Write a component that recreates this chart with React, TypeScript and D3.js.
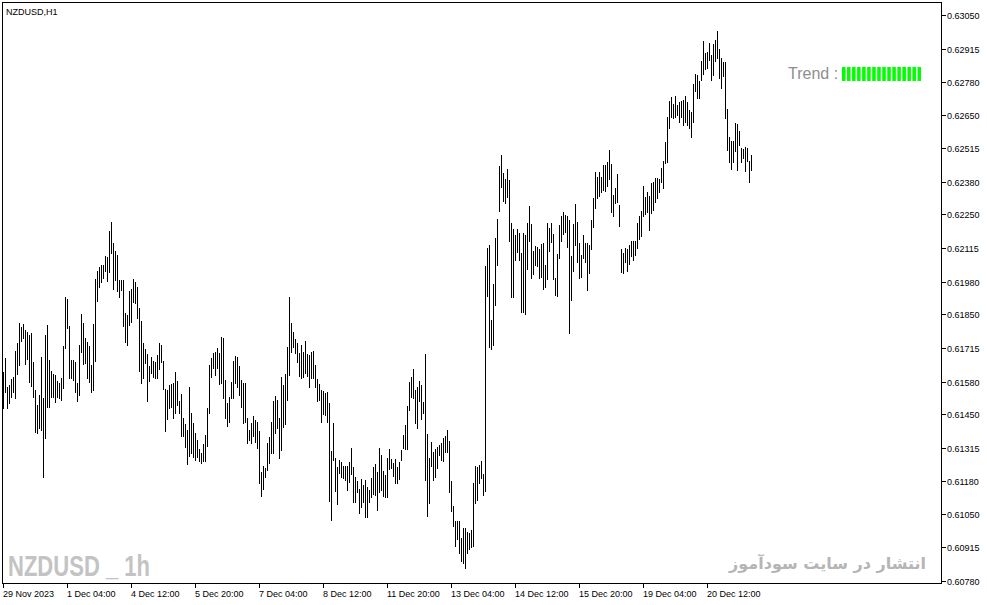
import { useEffect, useRef } from "react";
import * as d3 from "d3";

const symbolTitle = "NZDUSD,H1";
const watermark = "NZDUSD _ 1h";
const siteNote = "انتشار در سایت سودآموز";
const trendLabel = "Trend :";
const trendBlocks = 16;

// x-axis labels, one every 32 hourly bars
const timeLabels = [
  "29 Nov 2023", "1 Dec 04:00", "4 Dec 12:00", "5 Dec 20:00", "7 Dec 04:00", "8 Dec 12:00",
  "11 Dec 20:00", "13 Dec 04:00", "14 Dec 12:00", "15 Dec 20:00", "19 Dec 04:00", "20 Dec 12:00",
];
const labelEvery = 32;

const priceTicks = [
  0.6305, 0.62915, 0.6278, 0.6265, 0.62515, 0.6238, 0.6225, 0.62115, 0.6198,
  0.6185, 0.61715, 0.6158, 0.6145, 0.61315, 0.6118, 0.6105, 0.60915, 0.6078,
];
const priceLabels = [
  "0.63050", "0.62915", "0.62780", "0.62650", "0.62515", "0.62380", "0.62250", "0.62115", "0.61980",
  "0.61850", "0.61715", "0.61580", "0.61450", "0.61315", "0.61180", "0.61050", "0.60915", "0.60780",
];

// H1 bar highs / lows
const highs = [
  0.61618, 0.61674, 0.61558, 0.61566, 0.6159, 0.61598, 0.61702, 0.61735, 0.61815, 0.61799,
  0.61811, 0.61787, 0.61779, 0.61767, 0.61775, 0.61658, 0.61546, 0.61486, 0.61526, 0.61678,
  0.61514, 0.61767, 0.61807, 0.61666, 0.61622, 0.6161, 0.61606, 0.61582, 0.61574, 0.61594,
  0.61723, 0.61919, 0.61911, 0.61803, 0.61666, 0.61666, 0.61658, 0.61574, 0.61727, 0.61851,
  0.61815, 0.61755, 0.61739, 0.61723, 0.61646, 0.61811, 0.61991, 0.62023, 0.62039, 0.62047,
  0.62047, 0.62083, 0.62079, 0.62184, 0.6222, 0.62136, 0.62103, 0.62087, 0.61987, 0.61987,
  0.61987, 0.61855, 0.61847, 0.61943, 0.61951, 0.61991, 0.61979, 0.61959, 0.61875, 0.61823,
  0.61735, 0.6171, 0.6169, 0.61642, 0.61678, 0.61662, 0.61658, 0.61686, 0.61735, 0.61727,
  0.61662, 0.6155, 0.61546, 0.61566, 0.6157, 0.61574, 0.61618, 0.61582, 0.61502, 0.6153,
  0.61434, 0.6141, 0.61386, 0.61558, 0.61454, 0.61414, 0.61374, 0.61346, 0.6131, 0.61293,
  0.6133, 0.61366, 0.61474, 0.61646, 0.61674, 0.61694, 0.61698, 0.61715, 0.61694, 0.61759,
  0.61755, 0.61586, 0.61494, 0.61518, 0.61578, 0.61662, 0.61682, 0.61678, 0.61642, 0.61586,
  0.61574, 0.61574, 0.61434, 0.61386, 0.61414, 0.61442, 0.61426, 0.61418, 0.61382, 0.61217,
  0.61241, 0.61233, 0.61334, 0.61358, 0.61418, 0.61502, 0.61522, 0.61506, 0.61434, 0.61598,
  0.61566, 0.6161, 0.61718, 0.61919, 0.61815, 0.61779, 0.61751, 0.61735, 0.61694, 0.61727,
  0.61698, 0.61743, 0.6169, 0.61686, 0.61698, 0.61702, 0.61646, 0.6159, 0.6157, 0.61546,
  0.61542, 0.61534, 0.61538, 0.61494, 0.61301, 0.61414, 0.61273, 0.61237, 0.61265, 0.61257,
  0.61241, 0.61241, 0.61241, 0.61257, 0.61314, 0.61237, 0.61197, 0.61181, 0.61149, 0.61189,
  0.61165, 0.61185, 0.61157, 0.61145, 0.61193, 0.61237, 0.61249, 0.61217, 0.61314, 0.61285,
  0.61221, 0.61205, 0.61273, 0.6131, 0.61269, 0.61253, 0.61269, 0.61237, 0.61257, 0.61305,
  0.61366, 0.61406, 0.61482, 0.61578, 0.61598, 0.6163, 0.61546, 0.61558, 0.61582, 0.61566,
  0.61498, 0.6169, 0.6137, 0.61273, 0.61338, 0.61297, 0.6131, 0.61318, 0.61325, 0.61334,
  0.61354, 0.61362, 0.61386, 0.61342, 0.61181, 0.61081, 0.61021, 0.61021, 0.61021, 0.60953,
  0.60993, 0.60993, 0.60977, 0.60973, 0.60985, 0.61173, 0.61241, 0.61237, 0.61245, 0.61261,
  0.61209, 0.62043, 0.62115, 0.62127, 0.61827, 0.61971, 0.62156, 0.62232, 0.62444, 0.62488,
  0.62416, 0.62392, 0.62432, 0.62388, 0.62216, 0.62192, 0.62168, 0.62192, 0.62176, 0.62095,
  0.62176, 0.62168, 0.62216, 0.62284, 0.62212, 0.62103, 0.62123, 0.62119, 0.62111, 0.62132,
  0.62136, 0.62047, 0.62216, 0.62196, 0.62216, 0.62172, 0.61995, 0.62091, 0.62208, 0.62244,
  0.6226, 0.62248, 0.62244, 0.62228, 0.62083, 0.62212, 0.62292, 0.6222, 0.62136, 0.62087,
  0.62168, 0.62136, 0.62136, 0.62127, 0.62228, 0.62316, 0.6242, 0.624, 0.6242, 0.624,
  0.62448, 0.62448, 0.6246, 0.62508, 0.62452, 0.62328, 0.62356, 0.62412, 0.62288, 0.62111,
  0.62095, 0.62115, 0.62111, 0.62127, 0.62144, 0.62144, 0.62144, 0.62216, 0.62244, 0.62264,
  0.62364, 0.6232, 0.6234, 0.62324, 0.62376, 0.6238, 0.62396, 0.62396, 0.62392, 0.62436,
  0.62464, 0.62541, 0.62641, 0.62705, 0.62721, 0.62693, 0.62725, 0.62689, 0.62701, 0.62705,
  0.62709, 0.62725, 0.62701, 0.62669, 0.62661, 0.62773, 0.62813, 0.62809, 0.62785, 0.62865,
  0.62946, 0.62897, 0.62901, 0.62938, 0.62889, 0.62934, 0.6295, 0.62986, 0.62913, 0.62877,
  0.62861, 0.62861, 0.62673, 0.62561, 0.62545, 0.62545, 0.62617, 0.62613, 0.62585, 0.62516,
  0.62512, 0.6252, 0.62516, 0.62464, 0.62488,
];

const lows = [
  0.61474, 0.61538, 0.61474, 0.61494, 0.61518, 0.61538, 0.61514, 0.6161, 0.61646, 0.61743,
  0.61755, 0.6165, 0.6167, 0.61578, 0.61562, 0.61518, 0.61378, 0.61374, 0.61394, 0.61386,
  0.61197, 0.61354, 0.61478, 0.61478, 0.61518, 0.61518, 0.61498, 0.61518, 0.61514, 0.61506,
  0.61554, 0.61715, 0.61795, 0.61594, 0.61594, 0.61586, 0.61538, 0.61502, 0.61526, 0.61698,
  0.6165, 0.61654, 0.61594, 0.61578, 0.61538, 0.61546, 0.61662, 0.61903, 0.61959, 0.61979,
  0.61995, 0.62023, 0.61983, 0.62019, 0.62095, 0.61951, 0.61987, 0.61943, 0.61919, 0.61947,
  0.61803, 0.61739, 0.61727, 0.61807, 0.61819, 0.61899, 0.61895, 0.61835, 0.61622, 0.61574,
  0.61594, 0.61654, 0.61502, 0.61582, 0.61614, 0.61598, 0.61594, 0.61594, 0.6163, 0.61658,
  0.6155, 0.61382, 0.6143, 0.61474, 0.61478, 0.61434, 0.61454, 0.61486, 0.61454, 0.61362,
  0.61362, 0.61318, 0.61249, 0.61281, 0.61293, 0.61277, 0.61265, 0.61277, 0.61261, 0.61253,
  0.61261, 0.61261, 0.61321, 0.61454, 0.61598, 0.61634, 0.61606, 0.61634, 0.6157, 0.61574,
  0.61514, 0.61434, 0.61402, 0.61418, 0.61514, 0.61514, 0.61574, 0.61558, 0.61526, 0.61478,
  0.61414, 0.61418, 0.61334, 0.61346, 0.61334, 0.61362, 0.61338, 0.61314, 0.61173, 0.61121,
  0.61149, 0.61197, 0.61225, 0.61253, 0.61293, 0.61293, 0.61374, 0.61394, 0.61273, 0.61305,
  0.61398, 0.6141, 0.61506, 0.61606, 0.61698, 0.61718, 0.61694, 0.61658, 0.61602, 0.61594,
  0.61598, 0.61614, 0.61602, 0.61558, 0.61594, 0.61594, 0.61558, 0.61502, 0.61506, 0.61418,
  0.6145, 0.61446, 0.61418, 0.61101, 0.61025, 0.61265, 0.61141, 0.61089, 0.61213, 0.61197,
  0.61193, 0.61185, 0.61145, 0.61177, 0.61209, 0.61097, 0.61097, 0.61137, 0.61053, 0.61077,
  0.61097, 0.61037, 0.61037, 0.61097, 0.61117, 0.61129, 0.61125, 0.61065, 0.61137, 0.61145,
  0.61121, 0.61117, 0.61117, 0.61229, 0.61233, 0.61201, 0.61173, 0.61173, 0.61189, 0.61265,
  0.61314, 0.6131, 0.6131, 0.61466, 0.61518, 0.61514, 0.61414, 0.61394, 0.61502, 0.6143,
  0.61454, 0.61185, 0.61041, 0.61093, 0.61241, 0.61185, 0.61197, 0.61233, 0.61285, 0.61265,
  0.61261, 0.61297, 0.61297, 0.61137, 0.61061, 0.61001, 0.6092, 0.60949, 0.60892, 0.6086,
  0.60852, 0.60832, 0.60892, 0.60908, 0.60916, 0.6092, 0.61093, 0.61105, 0.61173, 0.61193,
  0.61125, 0.61141, 0.61923, 0.61718, 0.6171, 0.61727, 0.61887, 0.62047, 0.62264, 0.6236,
  0.62304, 0.62296, 0.6232, 0.62144, 0.61919, 0.61919, 0.62067, 0.62099, 0.62067, 0.61859,
  0.61859, 0.61851, 0.62031, 0.62144, 0.61995, 0.62011, 0.62047, 0.62043, 0.61995, 0.61999,
  0.61951, 0.61959, 0.61991, 0.62103, 0.6214, 0.61991, 0.61927, 0.61923, 0.62075, 0.62144,
  0.62172, 0.6218, 0.6212, 0.61775, 0.61907, 0.62023, 0.62127, 0.62059, 0.61995, 0.61999,
  0.62075, 0.62059, 0.61947, 0.62015, 0.62111, 0.622, 0.62276, 0.62316, 0.62324, 0.6234,
  0.62348, 0.62344, 0.62364, 0.62392, 0.6226, 0.62244, 0.62296, 0.623, 0.62204, 0.62019,
  0.62015, 0.62059, 0.62023, 0.62051, 0.62083, 0.62067, 0.62087, 0.62115, 0.62152, 0.62164,
  0.62244, 0.62252, 0.6226, 0.62188, 0.62256, 0.62268, 0.623, 0.62316, 0.6234, 0.6238,
  0.62356, 0.62456, 0.6246, 0.62597, 0.62641, 0.62637, 0.62641, 0.62649, 0.62621, 0.62641,
  0.62609, 0.62621, 0.62609, 0.62597, 0.62561, 0.62621, 0.62745, 0.62717, 0.62717, 0.62789,
  0.62813, 0.62833, 0.62837, 0.62869, 0.62789, 0.62809, 0.62865, 0.62877, 0.62797, 0.62757,
  0.62805, 0.62637, 0.62508, 0.6246, 0.62432, 0.6246, 0.62504, 0.62428, 0.62528, 0.6246,
  0.62476, 0.62424, 0.62464, 0.6238, 0.62428,
];

export default function App() {
  const svgRef = useRef<SVGSVGElement | null>(null);

  useEffect(() => {
    if (!svgRef.current) return;
    const width = 987;
    const height = 605;
    const frame = { left: 2, top: 2, right: 941, bottom: 583 };

    const svg = d3.select(svgRef.current);
    svg.selectAll("*").remove();
    svg.attr("width", width).attr("height", height);

    svg.append("rect").attr("width", width).attr("height", height).attr("fill", "#fff");

    // scales: 2px per hourly bar, price axis on the right
    const x = d3
      .scaleLinear()
      .domain([0, highs.length - 1])
      .range([3, 3 + 2 * (highs.length - 1)]);
    const y = d3.scaleLinear().domain([0.6078, 0.6305]).range([581, 15]);

    const font = "'Liberation Sans', Arial, sans-serif";

    // frame
    svg
      .append("rect")
      .attr("x", frame.left + 0.5)
      .attr("y", frame.top + 0.5)
      .attr("width", frame.right - frame.left)
      .attr("height", frame.bottom - frame.top)
      .attr("fill", "none")
      .attr("stroke", "#000")
      .attr("stroke-width", 1)
      .attr("shape-rendering", "crispEdges");

    // bars (high-low)
    svg
      .append("g")
      .attr("stroke", "#000")
      .attr("stroke-width", 1)
      .attr("shape-rendering", "crispEdges")
      .selectAll("line")
      .data(highs.map((h, i) => ({ i, h, l: lows[i] })))
      .join("line")
      .attr("x1", (d) => x(d.i) + 0.5)
      .attr("x2", (d) => x(d.i) + 0.5)
      .attr("y1", (d) => Math.round(y(d.h)))
      .attr("y2", (d) => Math.round(y(d.l)) + 1);

    // price axis
    const pa = svg.append("g");
    pa.selectAll("line")
      .data(priceTicks)
      .join("line")
      .attr("x1", frame.right + 1)
      .attr("x2", frame.right + 5)
      .attr("y1", (d) => Math.round(y(d)) + 0.5)
      .attr("y2", (d) => Math.round(y(d)) + 0.5)
      .attr("stroke", "#000")
      .attr("shape-rendering", "crispEdges");
    pa.selectAll("text")
      .data(priceTicks)
      .join("text")
      .attr("x", frame.right + 6)
      .attr("y", (d) => Math.round(y(d)) + 3.5)
      .attr("font-family", font)
      .attr("font-size", 9)
      .attr("fill", "#000")
      .text((_, i) => priceLabels[i]);

    // time axis
    const ta = svg.append("g");
    const tIdx = timeLabels.map((_, k) => k * labelEvery);
    ta.selectAll("line")
      .data(tIdx)
      .join("line")
      .attr("x1", (d) => x(d) + 0.5)
      .attr("x2", (d) => x(d) + 0.5)
      .attr("y1", frame.bottom + 1)
      .attr("y2", frame.bottom + 5)
      .attr("stroke", "#000")
      .attr("shape-rendering", "crispEdges");
    ta.selectAll("text")
      .data(tIdx)
      .join("text")
      .attr("x", (d) => x(d))
      .attr("y", 597)
      .attr("font-family", font)
      .attr("font-size", 9)
      .attr("fill", "#000")
      .text((_, k) => timeLabels[k]);

    // title
    svg
      .append("text")
      .attr("x", 6)
      .attr("y", 15)
      .attr("font-family", font)
      .attr("font-size", 9)
      .attr("fill", "#000")
      .text(symbolTitle);

    // trend indicator
    svg
      .append("text")
      .attr("x", 788)
      .attr("y", 79)
      .attr("font-family", font)
      .attr("font-size", 16)
      .attr("fill", "#8e8e8e")
      .text(trendLabel);
    const tb = d3
      .scaleBand<number>()
      .domain(d3.range(trendBlocks))
      .range([842, 921])
      .paddingInner(0.3);
    svg
      .append("g")
      .selectAll("rect")
      .data(d3.range(trendBlocks))
      .join("rect")
      .attr("x", (d) => tb(d)!)
      .attr("y", 67)
      .attr("width", tb.bandwidth())
      .attr("height", 14)
      .attr("fill", "#00ff00");

    // watermarks
    svg
      .append("text")
      .attr("x", 8)
      .attr("y", 576)
      .attr("font-family", "'Liberation Sans Narrow', 'Liberation Sans', Arial, sans-serif")
      .attr("font-weight", 700)
      .attr("font-size", 30)
      .attr("fill", "#c3c3c3")
      .attr("textLength", 142)
      .attr("lengthAdjust", "spacingAndGlyphs")
      .text(watermark);

    svg
      .append("text")
      .attr("x", 926)
      .attr("y", 569)
      .attr("text-anchor", "end")
      .attr("font-family", "'DejaVu Sans', sans-serif")
      .attr("font-weight", 700)
      .attr("font-size", 16)
      .attr("fill", "#b5b5b5")
      .text(siteNote);
  }, []);

  return (
    <svg
      ref={svgRef}
      style={{ position: "absolute", left: 0, top: 0, display: "block" }}
    />
  );
}
